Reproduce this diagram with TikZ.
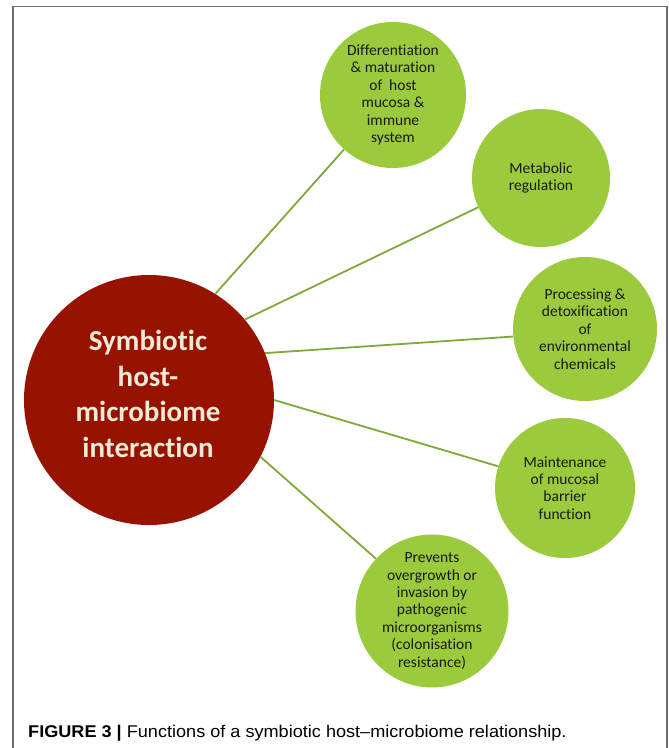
\documentclass[tikz,border=0pt]{standalone}
\usepackage{fontspec}
\setmainfont{Carlito}[Ligatures=NoCommon]
\newfontfamily\capfont{Liberation Sans}[FakeStretch=1.065]
\definecolor{redc}{RGB}{152,18,2}
\definecolor{greenc}{RGB}{155,203,60}
\definecolor{linec}{RGB}{128,168,58}
\definecolor{creamc}{RGB}{238,234,214}
\definecolor{framec}{RGB}{110,110,110}
\begin{document}
\begin{tikzpicture}[x=1pt,y=-1pt,
  bub/.style={circle, fill=greenc, inner sep=0pt, align=center,
    font=\fontsize{15.5}{17.4}\selectfont, text=black!90},
  hub/.style={circle, fill=redc, minimum size=250pt, inner sep=0pt},
  hubtext/.style={align=center, inner sep=0pt,
    font=\fontsize{29}{35.6}\selectfont\bfseries, text=creamc},
  link/.style={draw=linec, line width=1.8pt}]
\useasboundingbox (0,0) rectangle (669,748);
\fill[white] (0,0) rectangle (669,748);
\draw[framec, line width=1.6pt] (13,748) -- (13,6.5) -- (667,6.5) -- (667,748);

\node[hub] (hub) at (149,400) {};
\node[hubtext] (hubt) at (148,394) {Symbiotic\\host-\\microbiome\\interaction};

\node[bub, minimum size=146pt] (diff) at (393,95)
  {Differentiation\\\& maturation\\of~ host\\mucosa \&\\immune\\system};
\node[bub, minimum size=138pt] (meta) at (541,178) {Metabolic\\regulation};
\node[bub, minimum size=144pt] (proc) at (585,329)
  {Processing \&\\detoxification\\of\\environmental\\chemicals};
\node[bub, minimum size=140pt] (main) at (565,488)
  {Maintenance\\of mucosal\\barrier\\function};
\node[bub, minimum size=148pt] (prev) at (432,611)
  {Prevents\\overgrowth or\\invasion by\\pathogenic\\microorganisms\\(colonisation\\resistance)};

\draw[link] (hub.58.4) -- (diff.228.9);
\draw[link] (hub.40.8) -- (meta.205.8);
\draw[link] (hub.22.2) -- (proc.186.3);
\draw[link] (hub.0.9) -- (main.162);
\draw[link] (hub.-27.4) -- (prev.137);

\node[anchor=base west, inner sep=0pt, font=\capfont\fontsize{17}{20}\selectfont]
  (cap) at (28,737) {\textbf{FIGURE 3 |} Functions of a symbiotic host–microbiome relationship.};
\end{tikzpicture}
\end{document}
